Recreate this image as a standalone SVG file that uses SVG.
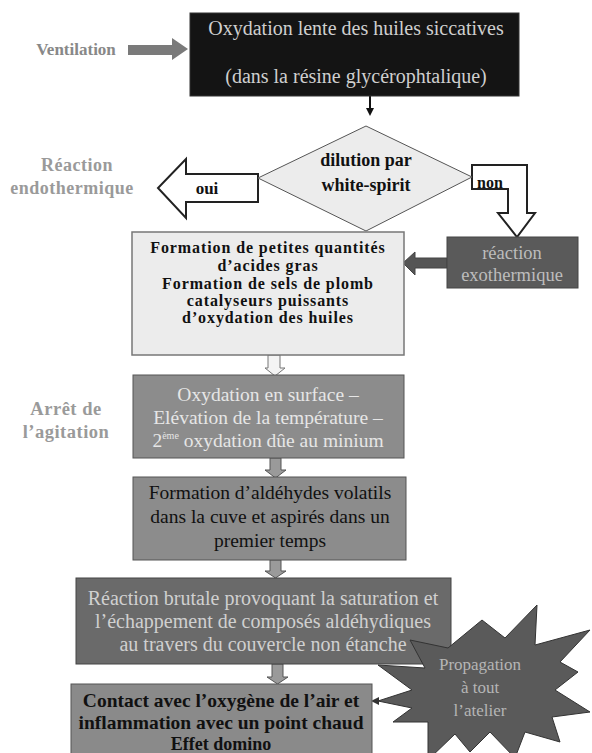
<svg xmlns="http://www.w3.org/2000/svg" width="592" height="753" viewBox="0 0 592 753" font-family="'Liberation Serif', 'Times New Roman', Times, serif">
<style>
text{text-anchor:middle}
.lt{fill:#cfcfcf;font-size:17px}
.bk{fill:#111;font-size:16px;font-weight:bold}
.side{fill:#9a9a9a;font-size:16px;font-weight:bold;letter-spacing:0.5px}
.varr{fill:#9a9a9a;stroke:#555;stroke-width:1}
</style>
<rect width="592" height="753" fill="#fff"/>
<g id="connectors">
  <polygon points="128,45 172,45 172,38 188,49 172,60 172,55 128,55" fill="#7a7a7a"/>
  <line x1="370" y1="96" x2="370" y2="110" stroke="#111" stroke-width="2"/>
  <polygon points="366,108 374,108 370,116" fill="#111"/>
  <polygon points="258,174 186,174 186,159 158,188 186,218 186,202 258,202" fill="#fff" stroke="#222" stroke-width="2"/>
  <polygon points="472,165 527,165 527,213 535,213 517,237 498,213 508,213 508,189 472,189" fill="#fff" stroke="#222" stroke-width="2"/>
  <polygon points="447,258 415,258 415,252 403,263 415,275 415,268 447,268" fill="#555" stroke="#444" stroke-width="1"/>
  <polygon points="268,355 280,355 280,368 285,368 275,376 265,368 268,368" fill="#f4f4f4" stroke="#777" stroke-width="1"/>
  <polygon class="varr" points="270,458 281,458 281,470 286,470 275.5,478 265,470 270,470"/>
  <polygon class="varr" points="270,560 281,560 281,571 286,571 275.5,578 265,571 270,571"/>
  <polygon class="varr" points="272,664 283,664 283,677 288,677 277.5,684 267,677 272,677"/>
  <polygon points="379,697 379,705 371,701" fill="#333"/>
</g>
<g id="ventilation"><text class="side" x="76" y="55" style="fill:#888;font-size:17px;letter-spacing:0">Ventilation</text></g>
<g id="n-top">
  <rect x="190" y="13" width="329" height="83" fill="#141414" stroke="#333"/>
  <text class="lt" x="356" y="35" style="font-size:20px">Oxydation lente des huiles siccatives</text>
  <text class="lt" x="356" y="83" style="font-size:20px">(dans la résine glycérophtalique)</text>
</g>
<g id="n-diamond">
  <polygon points="366,126 472,177 366,231 258,178" fill="#ececec" stroke="#555" stroke-width="1"/>
  <text class="bk" x="366" y="166" style="font-size:18px">dilution par</text>
  <text class="bk" x="366" y="191" style="font-size:18px">white-spirit</text>
</g>
<g id="oui-label"><text class="bk" x="207" y="194" style="font-size:17px">oui</text></g>
<g id="non-label"><text class="bk" x="490" y="188" style="font-size:16px">non</text></g>
<g id="endo">
  <text class="side" x="77" y="171" style="font-size:18px">Réaction</text>
  <text class="side" x="72" y="194" style="font-size:18px">endothermique</text>
</g>
<g id="n-exo">
  <rect x="447" y="237" width="131" height="51" fill="#5a5a5a" stroke="#444"/>
  <text class="lt" x="512" y="259" style="font-size:18.5px;fill:#bdbdbd">réaction</text>
  <text class="lt" x="512" y="281" style="font-size:18.5px;fill:#bdbdbd">exothermique</text>
</g>
<g id="n-formation">
  <rect x="132" y="232" width="272" height="123" fill="#ececec" stroke="#777" stroke-width="1.5"/>
  <g style="letter-spacing:0.9px">
  <text class="bk" x="268" y="253">Formation de petites quantités</text>
  <text class="bk" x="268" y="271">d’acides gras</text>
  <text class="bk" x="268" y="289">Formation de sels de plomb</text>
  <text class="bk" x="268" y="306">catalyseurs puissants</text>
  <text class="bk" x="268" y="323">d’oxydation des huiles</text>
  </g>
</g>
<g id="arret">
  <text class="side" x="66" y="415" style="font-size:18.5px">Arrêt de</text>
  <text class="side" x="66" y="438" style="font-size:18.5px">l’agitation</text>
</g>
<g id="n-surface">
  <rect x="133" y="375" width="271" height="83" fill="#8c8c8c" stroke="#555"/>
  <text class="lt" x="268" y="401" style="fill:#e6e6e6;font-size:19.5px">Oxydation en surface –</text>
  <text class="lt" x="268" y="424" style="fill:#e6e6e6;font-size:19.5px">Elévation de la température –</text>
  <text class="lt" x="268" y="447" style="fill:#e6e6e6;font-size:19.5px">2<tspan font-size="10" dy="-8">ème</tspan><tspan dy="8"> oxydation dûe au minium</tspan></text>
</g>
<g id="n-aldehydes">
  <rect x="133" y="477" width="273" height="83" fill="#8c8c8c" stroke="#555"/>
  <text class="bk" x="270" y="499" style="font-weight:normal;font-size:19.5px">Formation d’aldéhydes volatils</text>
  <text class="bk" x="270" y="523" style="font-weight:normal;font-size:19.5px">dans la cuve et aspirés dans un</text>
  <text class="bk" x="270" y="547" style="font-weight:normal;font-size:19.5px">premier temps</text>
</g>
<g id="n-brutale">
  <rect x="76" y="578" width="375" height="86" fill="#6a6a6a" stroke="#444"/>
  <text class="lt" x="263" y="605" style="fill:#d0d0d0;font-size:20px">Réaction brutale provoquant la saturation et</text>
  <text class="lt" x="263" y="628" style="fill:#d0d0d0;font-size:20px">l’échappement de composés aldéhydiques</text>
  <text class="lt" x="263" y="651" style="fill:#d0d0d0;font-size:20px">au travers du couvercle non étanche</text>
</g>
<g id="n-contact">
  <rect x="71" y="684" width="301" height="75" fill="#8a8a8a" stroke="#555"/>
  <text class="bk" x="221" y="707" style="font-size:19.5px">Contact  avec l’oxygène de l’air et</text>
  <text class="bk" x="221" y="729" style="font-size:19.5px">inflammation avec un point chaud</text>
  <text class="bk" x="221" y="750" style="font-size:18px">Effet domino</text>
</g>
<g id="n-star">
  <polygon points="410,640 448,648 482,620 505,638 537,605 535,645 590,630 560,662 578,672 555,690 590,712 552,717 560,742 525,732 515,758 490,732 470,752 455,734 428,760 428,722 393,722 412,708 378,701 412,690 378,665 425,668" fill="#5a5a5a" stroke="#333" stroke-width="1"/>
  <text class="lt" x="480" y="670" style="font-size:17px;fill:#b5b5b5">Propagation</text>
  <text class="lt" x="480" y="693" style="font-size:17px;fill:#b5b5b5">à tout</text>
  <text class="lt" x="480" y="716" style="font-size:17px;fill:#b5b5b5">l’atelier</text>
</g>
</svg>
